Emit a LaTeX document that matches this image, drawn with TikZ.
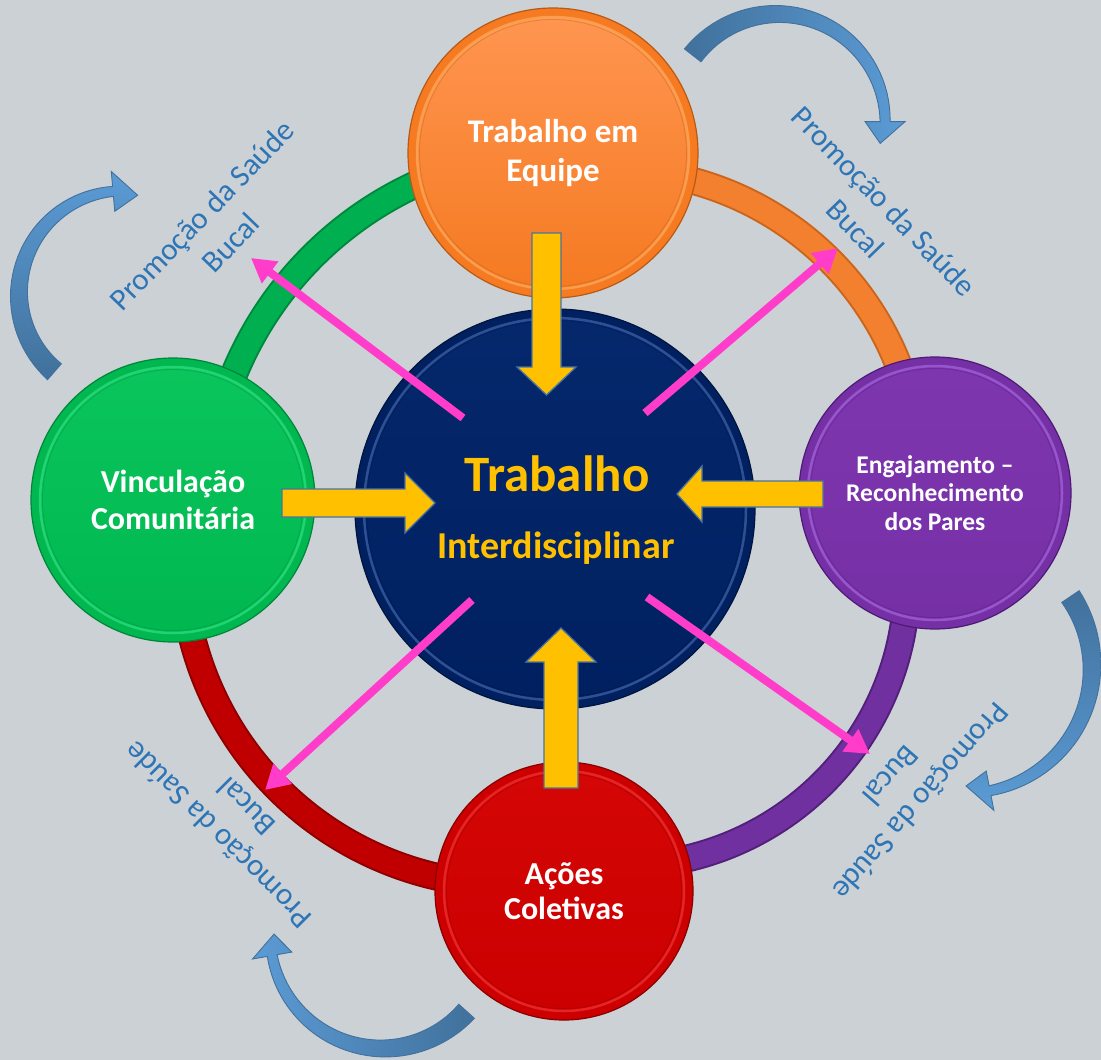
\documentclass[tikz,border=0pt]{standalone}
\usepackage{fontspec}
\setmainfont{Carlito}
\usetikzlibrary{arrows.meta}

\definecolor{bgGray}{RGB}{204,209,213}
\definecolor{ringGreen}{HTML}{00B050}
\definecolor{ringGreenDk}{HTML}{00893D}
\definecolor{ringOrange}{HTML}{F2802F}
\definecolor{ringOrangeDk}{HTML}{CC651C}
\definecolor{ringRed}{HTML}{C00000}
\definecolor{ringRedDk}{HTML}{8E0000}
\definecolor{ringPurple}{HTML}{7030A0}
\definecolor{ringPurpleDk}{HTML}{52207A}
\definecolor{orangeBase}{HTML}{F57A22}
\definecolor{orangeLight}{HTML}{FF9550}
\definecolor{orangeDark}{HTML}{B85A15}
\definecolor{orangeRim}{HTML}{FFC27A}
\definecolor{greenBase}{HTML}{00B84F}
\definecolor{greenLight}{HTML}{0AC45C}
\definecolor{greenDark}{HTML}{00863A}
\definecolor{greenRim}{HTML}{45EE95}
\definecolor{purpleBase}{HTML}{7630A6}
\definecolor{purpleLight}{HTML}{7E36AE}
\definecolor{purpleDark}{HTML}{4E1A75}
\definecolor{purpleRim}{HTML}{B67AEE}
\definecolor{redBase}{HTML}{CC0000}
\definecolor{redLight}{HTML}{D40606}
\definecolor{redDark}{HTML}{880000}
\definecolor{redRim}{HTML}{FF4A4A}
\definecolor{navyBase}{HTML}{002060}
\definecolor{navyLight}{HTML}{05286C}
\definecolor{navyDark}{HTML}{001440}
\definecolor{navyRim}{HTML}{5B80C8}
\definecolor{promoBlue}{HTML}{2E75B6}
\definecolor{curlDark}{HTML}{41719C}
\definecolor{curlLight}{HTML}{5B9BD5}
\definecolor{flowPink}{HTML}{FF3DCA}
\definecolor{blockYellow}{HTML}{FFC000}
\definecolor{blockEdge}{HTML}{4A73A0}

\tikzset{
  orb/.style n args={5}{circle, inner sep=0pt, minimum size=2*#1,
    fill=#2, draw=#4, line width=1.2pt, text=white, align=center,
    path picture={
      \coordinate (pc) at (path picture bounding box.center);
      \shade[top color=#3, bottom color=#2] (pc) circle[radius=#1-10];
      \draw[#5, line width=2.5pt, opacity=0.5] (pc) circle[radius=#1-9];
      \draw[#4, line width=0.8pt, opacity=0.35] (pc) circle[radius=#1-11.5];
    }},
  promo/.style={text=promoBlue, align=center, inner sep=0pt,
    font=\fontsize{31}{40}\selectfont},
  flow/.style={draw=flowPink, line width=8pt,
    -{Triangle[length=24pt,width=26pt]}},
  block/.style={fill=blockYellow, draw=blockEdge, line width=1.3pt,
    line join=miter},
  coretext/.style={text=blockYellow, inner sep=0pt, anchor=base}
}

% one coloured band of the ring, as an arc with its own centre
\newcommand\ringarc[7]{%
  \draw[#7, line width=28pt] plot[domain=#4:#5, samples=60, smooth, variable=\t]
    ({#1+#3*cos(\t)},{#2+#3*sin(\t)});
  \draw[#6, line width=24pt] plot[domain=#4:#5, samples=60, smooth, variable=\t]
    ({#1+#3*cos(\t)},{#2+#3*sin(\t)});
}

% tapered curved block arrow: centre x, centre y, radius, tail angle,
% head-base angle, tip angle, tip radius, shading options
\newcommand\curlarrow[8]{%
  \shadedraw[#8, draw=curlDark, line width=0.9pt, line join=miter]
    plot[domain=#4:#5, samples=40, variable=\t]
      ({#1+(#3+(21-11*(\t-#4)/(#5-#4))/2)*cos(\t)},
       {#2+(#3+(21-11*(\t-#4)/(#5-#4))/2)*sin(\t)})
    -- ({#1+(#3+20)*cos(#5)},{#2+(#3+20)*sin(#5)})
    -- ({#1+#7*cos(#6)},{#2+#7*sin(#6)})
    -- ({#1+(#3-20)*cos(#5)},{#2+(#3-20)*sin(#5)})
    -- plot[domain=#5:#4, samples=40, variable=\t]
      ({#1+(#3-(21-11*(\t-#4)/(#5-#4))/2)*cos(\t)},
       {#2+(#3-(21-11*(\t-#4)/(#5-#4))/2)*sin(\t)})
    -- cycle;
}

\begin{document}
\begin{tikzpicture}[x=1pt,y=-1pt]
\useasboundingbox (0,0) rectangle (1101,1060);
\fill[bgGray] (0,0) rectangle (1101,1060);

% ring segments joining the four outer discs
\ringarc{567}{511}{360}{195}{262}{ringGreen}{ringGreenDk}
\ringarc{612}{478}{308}{245}{360}{ringOrange}{ringOrangeDk}
\ringarc{622}{581}{285}{-5}{100}{ringPurple}{ringPurpleDk}
\ringarc{510}{557}{328}{95}{170}{ringRed}{ringRedDk}

% discs
\node[orb={145}{orangeBase}{orangeLight}{orangeDark}{orangeRim},
      font=\bfseries\fontsize{33}{39}\selectfont] (team) at (553,153)
      {Trabalho em\\Equipe};
\node[orb={142}{greenBase}{greenLight}{greenDark}{greenRim},
      font=\bfseries\fontsize{32}{37}\selectfont] (bond) at (173,500)
      {Vinculação\\Comunitária};
\node[orb={136}{purpleBase}{purpleLight}{purpleDark}{purpleRim},
      font=\bfseries\fontsize{25.5}{28.5}\selectfont] (peers) at (935,493)
      {Engajamento –\\Reconhecimento\\dos Pares};
\node[orb={129}{redBase}{redLight}{redDark}{redRim},
      font=\bfseries\fontsize{32}{35}\selectfont] (actions) at (564,891)
      {Ações\\Coletivas};
\node[orb={200}{navyBase}{navyLight}{navyDark}{navyRim}] (core) at (555,509) {};
\node[coretext, font=\bfseries\fontsize{51}{60}\selectfont] (coreA) at (557,491) {Trabalho};
\node[coretext, font=\bfseries\fontsize{38}{45}\selectfont] (coreB) at (556,558) {Interdisciplinar};

% curved arrows around the cycle
\curlarrow{122}{294}{103}{131}{265}{279}{100}{top color=curlLight, bottom color=curlDark}
\curlarrow{777.5}{121.6}{107.6}{218}{360}{372}{105}{left color=curlDark, right color=curlLight}
\curlarrow{966}{667}{126}{-34}{79}{90}{119}{top color=curlDark, bottom color=curlLight}
\curlarrow{383}{936}{112.5}{42}{170}{181}{109}{left color=curlLight, right color=curlDark}

% oral health promotion labels
\node[promo, rotate=46]  (promoNW) at (216,229) {Promoção da Saúde\\Bucal};
\node[promo, rotate=-46] (promoNE) at (870,215) {Promoção da Saúde\\Bucal};
\node[promo, rotate=229] (promoSE) at (906,789) {Promoção da Saúde\\Bucal};
\node[promo, rotate=135] (promoSW) at (232,821) {Promoção da Saúde\\Bucal};

% pink rays from the core
\coordinate (rayNWa) at (463,418); \coordinate (rayNWb) at (251,258);
\coordinate (rayNEa) at (645,413); \coordinate (rayNEb) at (838,248);
\coordinate (raySWa) at (472,600); \coordinate (raySWb) at (265,790);
\coordinate (raySEa) at (647,597); \coordinate (raySEb) at (870,754);
\draw[flow] (rayNWa) -- (rayNWb);
\draw[flow] (rayNEa) -- (rayNEb);
\draw[flow] (raySWa) -- (raySWb);
\draw[flow] (raySEa) -- (raySEb);

% yellow block arrows into the core
\draw[block] (532,233) -- (561,233) -- (561,367) -- (576,367) -- (546.5,395)
  -- (517,367) -- (532,367) -- cycle;
\draw[block] (282,489) -- (405,489) -- (405,473) -- (435,503) -- (405,533)
  -- (405,517) -- (282,517) -- cycle;
\draw[block] (823,481) -- (702,481) -- (702,466) -- (677,494) -- (702,522)
  -- (702,507) -- (823,507) -- cycle;
\draw[block] (544,788) -- (544,662) -- (526,662) -- (561,628) -- (596,662)
  -- (578,662) -- (578,788) -- cycle;
\end{tikzpicture}
\end{document}
